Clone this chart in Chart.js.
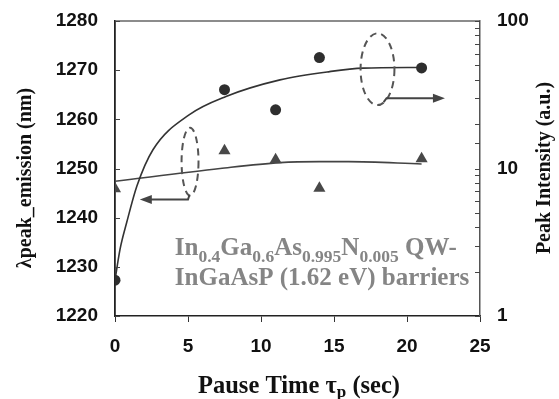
<!DOCTYPE html>
<html>
<head>
<meta charset="utf-8">
<script src="https://cdn.jsdelivr.net/npm/chart.js@4.4.0/dist/chart.umd.min.js"></script>
<style>
html, body { margin: 0; padding: 0; background: #fff; }
#wrap { width: 559px; height: 399px; }
</style>
</head>
<body>
<div id="wrap"><canvas id="plot" width="559" height="399"></canvas></div>
<script>
// pause time (sec)
var pauseTimes = [0, 7.5, 11, 14, 21];
// peak intensity (a.u.), right log axis, circles
var peakIntensity = [1.75, 34.2, 25, 56.5, 48.1];
// peak emission wavelength (nm), left axis, triangles
var peakWavelength = [1245.9, 1253.6, 1251.8, 1246.0, 1252.0];

// trend curves as drawn in the figure
var intensityFitX = [0, 0.35, 0.8, 1.5, 2.6, 5.1, 7.6, 11.3, 14.7, 17, 21];
var intensityFitY = [1.75, 2.85, 4.3, 7.6, 13.4, 23.2, 30.8, 39.9, 45.4, 47.9, 48.4];
var wavelengthFitX = [0, 7.2, 11.3, 14, 16, 21];
var wavelengthFitY = [1247.4, 1250, 1251.2, 1251.4, 1251.4, 1250.9];

var xTicks = [0, 5, 10, 15, 20, 25];
var leftTicks = [1220, 1230, 1240, 1250, 1260, 1270, 1280];
var rightTicks = [1, 10, 100];

// dashed ovals + arrows (in data units, left axis)
var ovals = [
    {x: 5.14, y: 1251.4, rx: 0.58, ry: 6.9},
    {x: 17.98, y: 1270.2, rx: 1.16, ry: 7.3}
];
var arrows = [
    [[5.1, 1244.6], [5.0, 1243.7], [1.7, 1243.7]],
    [[18.4, 1263.5], [18.6, 1264.3], [22.6, 1264.3]]
];

var sans = '"Liberation Sans", Arial, sans-serif';
var serif = '"Liberation Serif", "Times New Roman", serif';

function zip(xs, ys) {
    return xs.map(function (x, i) { return {x: x, y: ys[i]}; });
}

// draw a run of text with subscripts
function richText(ctx, x, y, parts, size, subSize, subDrop) {
    ctx.textAlign = 'left';
    ctx.textBaseline = 'alphabetic';
    parts.forEach(function (p) {
        var sub = p[1];
        ctx.font = 'bold ' + (sub ? subSize : size) + 'px ' + serif;
        ctx.fillText(p[0], x, sub ? y + subDrop : y);
        x += ctx.measureText(p[0]).width;
    });
    return x;
}

function richWidth(ctx, parts, size, subSize) {
    var w = 0;
    parts.forEach(function (p) {
        ctx.font = 'bold ' + (p[1] ? subSize : size) + 'px ' + serif;
        w += ctx.measureText(p[0]).width;
    });
    return w;
}

function noPad(s) {
    s.paddingTop = 0;
    s.paddingBottom = 0;
}

var extras = {
    id: 'extras',
    afterDraw: function (chart) {
        var ctx = chart.ctx, a = chart.chartArea;
        var sx = chart.scales.x, sy = chart.scales.y, sr = chart.scales.y2;
        ctx.save();

        // top frame line
        ctx.strokeStyle = '#666';
        ctx.lineWidth = 1.5;
        ctx.beginPath();
        ctx.moveTo(a.left, a.top);
        ctx.lineTo(a.right, a.top);
        ctx.stroke();

        // inward ticks
        ctx.strokeStyle = '#444';
        ctx.lineWidth = 1;
        sy.ticks.forEach(function (t) {
            var p = Math.round(sy.getPixelForValue(t.value)) + 0.5;
            ctx.beginPath();
            ctx.moveTo(a.left, p);
            ctx.lineTo(a.left + 5, p);
            ctx.stroke();
        });
        sr.ticks.forEach(function (t) {
            var p = Math.round(sr.getPixelForValue(t.value)) + 0.5;
            ctx.beginPath();
            ctx.moveTo(a.right, p);
            ctx.lineTo(a.right - 5, p);
            ctx.stroke();
        });

        // dashed ovals
        ctx.strokeStyle = '#555';
        ctx.lineWidth = 2;
        ctx.setLineDash([7, 5]);
        ovals.forEach(function (o) {
            var cx = sx.getPixelForValue(o.x), cy = sy.getPixelForValue(o.y);
            var rx = Math.abs(sx.getPixelForValue(o.x + o.rx) - cx);
            var ry = Math.abs(sy.getPixelForValue(o.y + o.ry) - cy);
            ctx.beginPath();
            ctx.ellipse(cx, cy, rx, ry, 0, 0, Math.PI * 2);
            ctx.stroke();
        });
        ctx.setLineDash([]);

        // arrows
        ctx.strokeStyle = '#444';
        ctx.fillStyle = '#444';
        ctx.lineWidth = 2;
        arrows.forEach(function (pts) {
            var px = pts.map(function (p) {
                return [sx.getPixelForValue(p[0]), sy.getPixelForValue(p[1])];
            });
            var n = px.length;
            var end = px[n - 1];
            var dir = end[0] > px[n - 2][0] ? 1 : -1;
            ctx.beginPath();
            ctx.moveTo(px[0][0], px[0][1]);
            for (var i = 1; i < n - 1; i++) ctx.lineTo(px[i][0], px[i][1]);
            ctx.lineTo(end[0] - dir * 8, end[1]);
            ctx.stroke();
            ctx.beginPath();
            ctx.moveTo(end[0], end[1]);
            ctx.lineTo(end[0] - dir * 12, end[1] - 4.5);
            ctx.lineTo(end[0] - dir * 12, end[1] + 4.5);
            ctx.closePath();
            ctx.fill();
        });

        // sample label
        ctx.fillStyle = '#858585';
        var tx = sx.getPixelForValue(4.1);
        richText(ctx, tx, sy.getPixelForValue(1232.5), [
            ['In'], ['0.4', 1], ['Ga'], ['0.6', 1], ['As'], ['0.995', 1], ['N'], ['0.005', 1], [' QW-']
        ], 25, 17.5, 7);
        richText(ctx, tx, sy.getPixelForValue(1226.4), [['InGaAsP (1.62 eV) barriers']], 25, 18, 7);

        // axis titles
        ctx.fillStyle = '#111';
        ctx.textAlign = 'center';
        ctx.textBaseline = 'middle';
        ctx.save();
        ctx.translate(26, 178);
        ctx.rotate(-Math.PI / 2);
        ctx.font = 'bold 20px ' + serif;
        ctx.fillText('\u03bbpeak_emission (nm)', 0, 0);
        ctx.restore();

        ctx.save();
        ctx.translate(545, 168);
        ctx.rotate(-Math.PI / 2);
        ctx.font = 'bold 20px ' + serif;
        ctx.fillText('Peak Intensity (a.u.)', 0, 0);
        ctx.restore();

        var xt = [['Pause Time \u03c4'], ['p', 1], [' (sec)']];
        var w = richWidth(ctx, xt, 24.5, 17);
        richText(ctx, 299 - w / 2, 393, xt, 24.5, 17, 4);

        ctx.restore();
    }
};

new Chart(document.getElementById('plot'), {
    type: 'scatter',
    data: {
        datasets: [
            {
                data: zip(pauseTimes, peakIntensity),
                yAxisID: 'y2',
                pointStyle: 'circle',
                pointRadius: 5.5,
                backgroundColor: '#2e2e2e',
                borderColor: '#2e2e2e',
                borderWidth: 0
            },
            {
                data: zip(pauseTimes, peakWavelength),
                yAxisID: 'y',
                pointStyle: 'triangle',
                pointRadius: 7,
                backgroundColor: '#484848',
                borderColor: '#484848',
                borderWidth: 0
            },
            {
                data: zip(intensityFitX, intensityFitY),
                yAxisID: 'y2',
                showLine: true,
                pointRadius: 0,
                borderColor: '#333',
                borderWidth: 1.6,
                cubicInterpolationMode: 'monotone'
            },
            {
                data: zip(wavelengthFitX, wavelengthFitY),
                yAxisID: 'y',
                showLine: true,
                pointRadius: 0,
                borderColor: '#444',
                borderWidth: 1.6,
                cubicInterpolationMode: 'monotone'
            }
        ]
    },
    options: {
        responsive: false,
        animation: false,
        devicePixelRatio: 1,
        layout: {padding: {top: 21, left: 0, right: 0, bottom: 0}},
        plugins: {legend: {display: false}, tooltip: {enabled: false}},
        scales: {
            x: {
                type: 'linear',
                min: 0,
                max: 25,
                afterBuildTicks: function (s) {
                    s.ticks = xTicks.map(function (v) { return {value: v}; });
                },
                afterFit: function (s) { s.height = 83; s.paddingLeft = 0; s.paddingRight = 0; },
                grid: {display: true, drawOnChartArea: false, drawTicks: true, tickLength: 6, color: '#333', lineWidth: 1},
                border: {display: true, color: '#222', width: 1.5},
                ticks: {color: '#111', padding: 13, font: {family: sans, size: 19, weight: 'bold'}}
            },
            y: {
                type: 'linear',
                position: 'left',
                min: 1220,
                max: 1280,
                afterBuildTicks: function (s) {
                    s.ticks = leftTicks.map(function (v) { return {value: v}; });
                },
                afterFit: function (s) { s.width = 115; noPad(s); },
                grid: {display: false, drawTicks: false},
                border: {display: true, color: '#222', width: 1.8},
                ticks: {
                    color: '#111',
                    padding: 17,
                    font: {family: sans, size: 19, weight: 'bold'},
                    callback: function (v) { return String(v); }
                }
            },
            y2: {
                type: 'logarithmic',
                position: 'right',
                min: 1,
                max: 100,
                afterFit: function (s) { s.width = 79; noPad(s); },
                grid: {display: false, drawTicks: false},
                border: {display: true, color: '#555', width: 1.5},
                ticks: {
                    color: '#111',
                    padding: 17,
                    autoSkip: false,
                    font: {family: sans, size: 19, weight: 'bold'},
                    callback: function (v) {
                        return rightTicks.indexOf(v) >= 0 ? String(v) : '';
                    }
                }
            }
        }
    },
    plugins: [extras]
});
</script>
</body>
</html>
